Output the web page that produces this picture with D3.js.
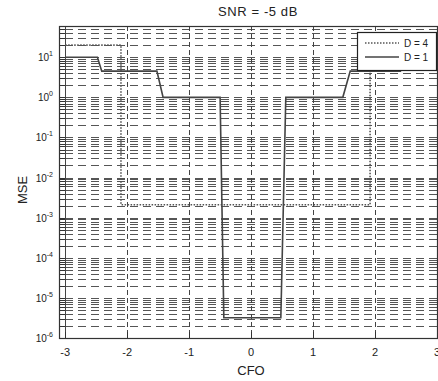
<!DOCTYPE html>
<html>
<head>
<meta charset="utf-8">
<script src="https://cdn.jsdelivr.net/npm/d3@7"></script>
<style>
  body { margin: 0; background: #fff; }
  svg { font-family: 'Liberation Sans', Arial, sans-serif; }
</style>
</head>
<body>
<svg id="chart" width="438" height="381"></svg>
<script>
// values
const xTicks = [-3, -2, -1, 0, 1, 2, 3];
const yDecades = [-6, -5, -4, -3, -2, -1, 0, 1];
const cfoD4 = [-3, -2.1, -2.1, 1.92, 1.92, 3];
const mseD4 = [20, 20, 2.1e-3, 2.1e-3, 20, 20];
const cfoD1 = [-3, -2.48, -2.41, -1.52, -1.42, -0.5, -0.44, 0.48, 0.56, 1.48, 1.6, 2.41, 2.48, 3];
const mseD1 = [10, 10, 4.5, 4.5, 1, 1, 3.2e-6, 3.2e-6, 1, 1, 4.5, 4.5, 10, 10];
const seriesNames = ['D = 4', 'D = 1'];

const svg = d3.select('#chart');
const mLeft = 59, mRight = 437, mTop = 26, mBottom = 338;

const x = d3.scaleLinear().domain([-3.1, 3]).range([mLeft, mRight]);
const y = d3.scaleLog().domain([1e-6, 60]).range([mBottom, mTop]);

// grid values: 1..9 x 10^k inside the y domain
const gridVals = [];
yDecades.forEach(k => {
  for (let m = 1; m <= 9; m++) {
    const v = m * Math.pow(10, k);
    if (v >= 1e-6 && v <= 60) gridVals.push(v);
  }
});

const grid = svg.append('g');
grid.selectAll('line.h')
  .data(gridVals)
  .enter()
  .append('line')
  .attr('class', 'h')
  .attr('x1', mLeft + 6)
  .attr('x2', mRight)
  .attr('y1', d => Math.round(y(d)) + 0.5)
  .attr('y2', d => Math.round(y(d)) + 0.5)
  .attr('stroke', '#555')
  .attr('stroke-dasharray', '8,5');

grid.selectAll('line.v')
  .data(xTicks)
  .enter()
  .append('line')
  .attr('class', 'v')
  .attr('x1', d => Math.round(x(d)) + 0.5)
  .attr('x2', d => Math.round(x(d)) + 0.5)
  .attr('y1', mTop)
  .attr('y2', mBottom)
  .attr('stroke', '#444')
  .attr('stroke-dasharray', d => d === -3 ? null : '5,3');

// minor ticks on the left axis, pointing inward
svg.append('g').selectAll('line')
  .data(gridVals)
  .enter()
  .append('line')
  .attr('x1', mLeft)
  .attr('x2', mLeft + 6)
  .attr('y1', d => Math.round(y(d)) + 0.5)
  .attr('y2', d => Math.round(y(d)) + 0.5)
  .attr('stroke', '#333');

// x ticks at the bottom
svg.append('g').selectAll('line')
  .data(xTicks)
  .enter()
  .append('line')
  .attr('x1', d => Math.round(x(d)) + 0.5)
  .attr('x2', d => Math.round(x(d)) + 0.5)
  .attr('y1', mBottom)
  .attr('y2', mBottom - 6)
  .attr('stroke', '#333');

// data lines
const line = d3.line()
  .x(d => x(d[0]))
  .y(d => y(d[1]));

svg.append('path')
  .datum(d3.zip(cfoD4, mseD4))
  .attr('d', line)
  .attr('fill', 'none')
  .attr('stroke', '#555')
  .attr('stroke-width', 1.6)
  .attr('stroke-dasharray', '1.5,1.5');

svg.append('path')
  .datum(d3.zip(cfoD1, mseD1))
  .attr('d', line)
  .attr('fill', 'none')
  .attr('stroke', '#444')
  .attr('stroke-width', 1.6);

// axes box
svg.append('rect')
  .attr('x', mLeft + 0.5)
  .attr('y', mTop + 0.5)
  .attr('width', mRight - mLeft)
  .attr('height', mBottom - mTop)
  .attr('fill', 'none')
  .attr('stroke', '#333')
  .attr('stroke-width', 1.2);

// tick labels
svg.append('g').selectAll('text')
  .data(xTicks)
  .enter()
  .append('text')
  .attr('x', d => x(d))
  .attr('y', 356)
  .attr('text-anchor', 'middle')
  .attr('font-size', 11)
  .attr('fill', '#222')
  .text(d => d);

const yl = svg.append('g').selectAll('text')
  .data(yDecades)
  .enter()
  .append('text')
  .attr('x', 53)
  .attr('y', d => y(Math.pow(10, d)) + 4)
  .attr('text-anchor', 'end')
  .attr('font-size', 10)
  .attr('fill', '#222');
yl.append('tspan').text('10');
yl.append('tspan')
  .attr('dy', -5)
  .attr('font-size', 7)
  .text(d => d);

// titles
svg.append('text')
  .attr('x', 258)
  .attr('y', 16)
  .attr('text-anchor', 'middle')
  .attr('font-size', 13)
  .attr('letter-spacing', 0.6)
  .attr('fill', '#222')
  .text('SNR = -5 dB');

svg.append('text')
  .attr('x', 251)
  .attr('y', 375)
  .attr('text-anchor', 'middle')
  .attr('font-size', 13)
  .attr('fill', '#222')
  .text('CFO');

svg.append('text')
  .attr('transform', 'translate(27,190) rotate(-90)')
  .attr('text-anchor', 'middle')
  .attr('font-size', 13)
  .attr('fill', '#222')
  .text('MSE');

// legend
const lg = svg.append('g');
lg.append('rect')
  .attr('x', 357.5)
  .attr('y', 32.5)
  .attr('width', 79)
  .attr('height', 38)
  .attr('fill', '#fff')
  .attr('stroke', '#222')
  .attr('stroke-width', 1.2);

const items = lg.selectAll('g')
  .data(seriesNames)
  .enter()
  .append('g')
  .attr('transform', (d, i) => `translate(0,${43 + i * 14})`);
items.append('line')
  .attr('x1', 365)
  .attr('x2', 399)
  .attr('stroke', (d, i) => i === 0 ? '#555' : '#444')
  .attr('stroke-width', 1.4)
  .attr('stroke-dasharray', (d, i) => i === 0 ? '1.5,1.5' : null);
items.append('text')
  .attr('x', 404)
  .attr('y', 4)
  .attr('font-size', 10)
  .attr('fill', '#222')
  .text(d => d);
</script>
</body>
</html>
